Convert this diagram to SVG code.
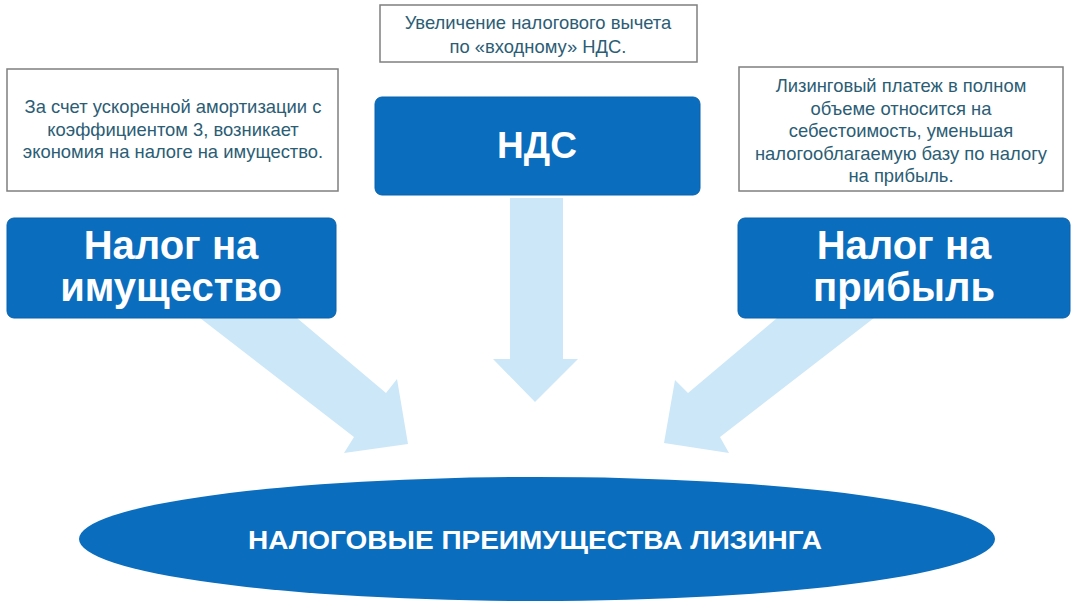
<svg xmlns="http://www.w3.org/2000/svg" width="1074" height="603" viewBox="0 0 1074 603">
<style>
.note{fill:#ffffff;stroke:#7f7f7f;stroke-width:1.5}
.nt{font-family:"Liberation Sans",Arial,sans-serif;font-size:18.4px;fill:#2b5d75;text-anchor:middle}
.box{fill:#0a6dbd;stroke:#0862ad;stroke-width:1}
.bt{font-family:"Liberation Sans",Arial,sans-serif;font-weight:bold;font-size:40px;fill:#ffffff;text-anchor:middle}
.arrow{fill:#cce7f8}
</style>
<rect width="1074" height="603" fill="#ffffff"/>
<g id="connectors">
<polygon class="arrow" points="200,318 297,318 386,393 397,379 408,444 344,453 354,437"/>
<polygon class="arrow" points="510,198 563,198 563,359 578,359 535,402 493,359 510,359"/>
<polygon class="arrow" points="874,318 777,318 688,393 675,380 664,443 729,453 720,437"/>
</g>
<g id="note-property">
<rect class="note" x="7" y="69" width="331" height="122"/>
<text class="nt" x="173" y="113">За счет ускоренной амортизации с</text>
<text class="nt" x="173" y="136">коэффициентом 3, возникает</text>
<text class="nt" x="173" y="158">экономия на налоге на имущество.</text>
</g>
<g id="note-vat">
<rect class="note" x="380" y="5" width="317" height="57"/>
<text class="nt" x="538" y="29">Увеличение налогового вычета</text>
<text class="nt" x="538" y="53">по «входному» НДС.</text>
</g>
<g id="note-profit">
<rect class="note" x="739" y="67" width="324" height="124"/>
<text class="nt" x="901" y="92">Лизинговый платеж в полном</text>
<text class="nt" x="901" y="115">объеме относится на</text>
<text class="nt" x="901" y="137">себестоимость, уменьшая</text>
<text class="nt" x="901" y="160">налогооблагаемую базу по налогу</text>
<text class="nt" x="901" y="182">на прибыль.</text>
</g>
<g id="box-property">
<rect class="box" x="7" y="218" width="329" height="100" rx="7"/>
<text class="bt" x="171" y="259">Налог на</text>
<text class="bt" x="171" y="301">имущество</text>
</g>
<g id="box-vat">
<rect class="box" x="375" y="97" width="325" height="98" rx="7"/>
<text class="bt" x="537" y="158" style="font-size:37px">НДС</text>
</g>
<g id="box-profit">
<rect class="box" x="738" y="218" width="332" height="100" rx="7"/>
<text class="bt" x="904" y="259">Налог на</text>
<text class="bt" x="904" y="301">прибыль</text>
</g>
<g id="ellipse-benefits">
<ellipse cx="537" cy="539" rx="458" ry="62" fill="#0a6dbd"/>
<text x="535" y="549" font-family="'Liberation Sans',Arial,sans-serif" font-weight="bold" font-size="26" fill="#ffffff" text-anchor="middle" textLength="574" lengthAdjust="spacingAndGlyphs">НАЛОГОВЫЕ ПРЕИМУЩЕСТВА ЛИЗИНГА</text>
</g>
</svg>
